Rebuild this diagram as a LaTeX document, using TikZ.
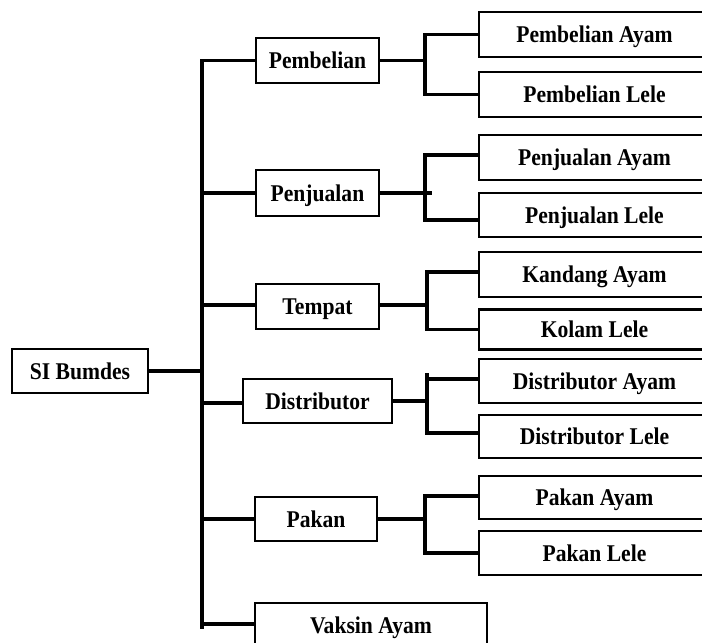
\documentclass[tikz,border=0pt]{standalone}
\usepackage{fontspec}
\setmainfont[FakeStretch=0.9]{Liberation Serif}
\begin{document}
\begin{tikzpicture}[x=1pt,y=-1pt,
  box/.style={draw=black,line width=2.8pt,fill=white,inner sep=0pt,
    text height=16pt,text depth=0pt,
    font=\fontsize{24}{28}\selectfont\bfseries},
  conn/.style={line width=3.2pt,line cap=rect}]
\useasboundingbox (0,0) rectangle (702,643);
\clip (0,0) rectangle (702,643);
% nodes
\node[box,minimum width=136pt,minimum height=44pt] (root) at (80,371) {SI Bumdes};
\node[box,minimum width=123pt,minimum height=45pt] (pem) at (317.5,60.5) {Pembelian};
\node[box,minimum width=123pt,minimum height=46pt] (pen) at (317.5,193) {Penjualan};
\node[box,minimum width=123pt,minimum height=45pt] (tem) at (317.5,306.5) {Tempat};
\node[box,minimum width=149pt,minimum height=44pt] (dis) at (317.5,401) {Distributor};
\node[box,minimum width=122pt,minimum height=44pt] (pak) at (316,519) {Pakan};
\node[box,minimum width=232pt,minimum height=45pt] (vak) at (371,625.5) {Vaksin Ayam};
\node[box,minimum width=231pt,minimum height=45pt] (pemA) at (594.5,34.5) {Pembelian Ayam};
\node[box,minimum width=231pt,minimum height=45pt] (pemL) at (594.5,94.5) {Pembelian Lele};
\node[box,minimum width=231pt,minimum height=45pt] (penA) at (594.5,157.5) {Penjualan Ayam};
\node[box,minimum width=231pt,minimum height=44pt] (penL) at (594.5,215) {Penjualan Lele};
\node[box,minimum width=231pt,minimum height=45pt] (temA) at (594.5,274.5) {Kandang Ayam};
\node[box,minimum width=231pt,minimum height=40pt] (temL) at (594.5,329.5) {Kolam Lele};
\node[box,minimum width=231pt,minimum height=44pt] (disA) at (594.5,381) {Distributor Ayam};
\node[box,minimum width=231pt,minimum height=43pt] (disL) at (594.5,436.5) {Distributor Lele};
\node[box,minimum width=231pt,minimum height=43pt] (pakA) at (594.5,497.5) {Pakan Ayam};
\node[box,minimum width=231pt,minimum height=44pt] (pakL) at (594.5,553) {Pakan Lele};
% trunk coordinates
\coordinate (T) at (202,0);
\coordinate (S1) at (425,0);
\coordinate (S2) at (427,0);
\coordinate (Pe) at (430,0);
% main trunk
\draw[conn] (root.east) -- (root.east -| T);
\draw[conn] (pem.west -| T) -- ([yshift=-1.5pt]vak.west -| T);
\draw[conn] (pem.west -| T) -- (pem.west);
\draw[conn] (pen.west -| T) -- (pen.west);
\draw[conn] ([yshift=1.5pt]tem.west -| T) -- ([yshift=1.5pt]tem.west);
\draw[conn] ([yshift=-2pt]dis.west -| T) -- ([yshift=-2pt]dis.west);
\draw[conn] (pak.west -| T) -- (pak.west);
\draw[conn] ([yshift=1.5pt]vak.west -| T) -- ([yshift=1.5pt]vak.west);
% Pembelian group
\draw[conn] (pem.east) -- (pem.east -| S1);
\draw[conn] (pemA.west -| S1) -- (pemL.west -| S1);
\draw[conn] (pemA.west -| S1) -- (pemA.west);
\draw[conn] (pemL.west -| S1) -- (pemL.west);
% Penjualan group
\draw[conn] (pen.east) -- (pen.east -| Pe);
\draw[conn] ([yshift=2.5pt]penA.west -| S1) -- ([yshift=-5pt]penL.west -| S1);
\draw[conn] ([yshift=2.5pt]penA.west -| S1) -- ([yshift=2.5pt]penA.west);
\draw[conn] ([yshift=-5pt]penL.west -| S1) -- ([yshift=-5pt]penL.west);
% Tempat group
\draw[conn] ([yshift=1.5pt]tem.east) -- ([yshift=1.5pt]tem.east -| S2);
\draw[conn] ([yshift=2.5pt]temA.west -| S2) -- (temL.west -| S2);
\draw[conn] ([yshift=2.5pt]temA.west -| S2) -- ([yshift=2.5pt]temA.west);
\draw[conn] (temL.west -| S2) -- (temL.west);
% Distributor group
\draw[conn] (dis.east) -- (dis.east -| S2);
\draw[conn] ([yshift=6pt]disA.west -| S2) -- ([yshift=3.5pt]disL.west -| S2);
\draw[conn] ([yshift=2pt]disA.west -| S2) -- ([yshift=2pt]disA.west);
\draw[conn] ([yshift=3.5pt]disL.west -| S2) -- ([yshift=3.5pt]disL.west);
% Pakan group
\draw[conn] (pak.east) -- (pak.east -| S1);
\draw[conn] ([yshift=1.5pt]pakA.west -| S1) -- (pakL.west -| S1);
\draw[conn] ([yshift=1.5pt]pakA.west -| S1) -- ([yshift=1.5pt]pakA.west);
\draw[conn] (pakL.west -| S1) -- (pakL.west);
\end{tikzpicture}
\end{document}
